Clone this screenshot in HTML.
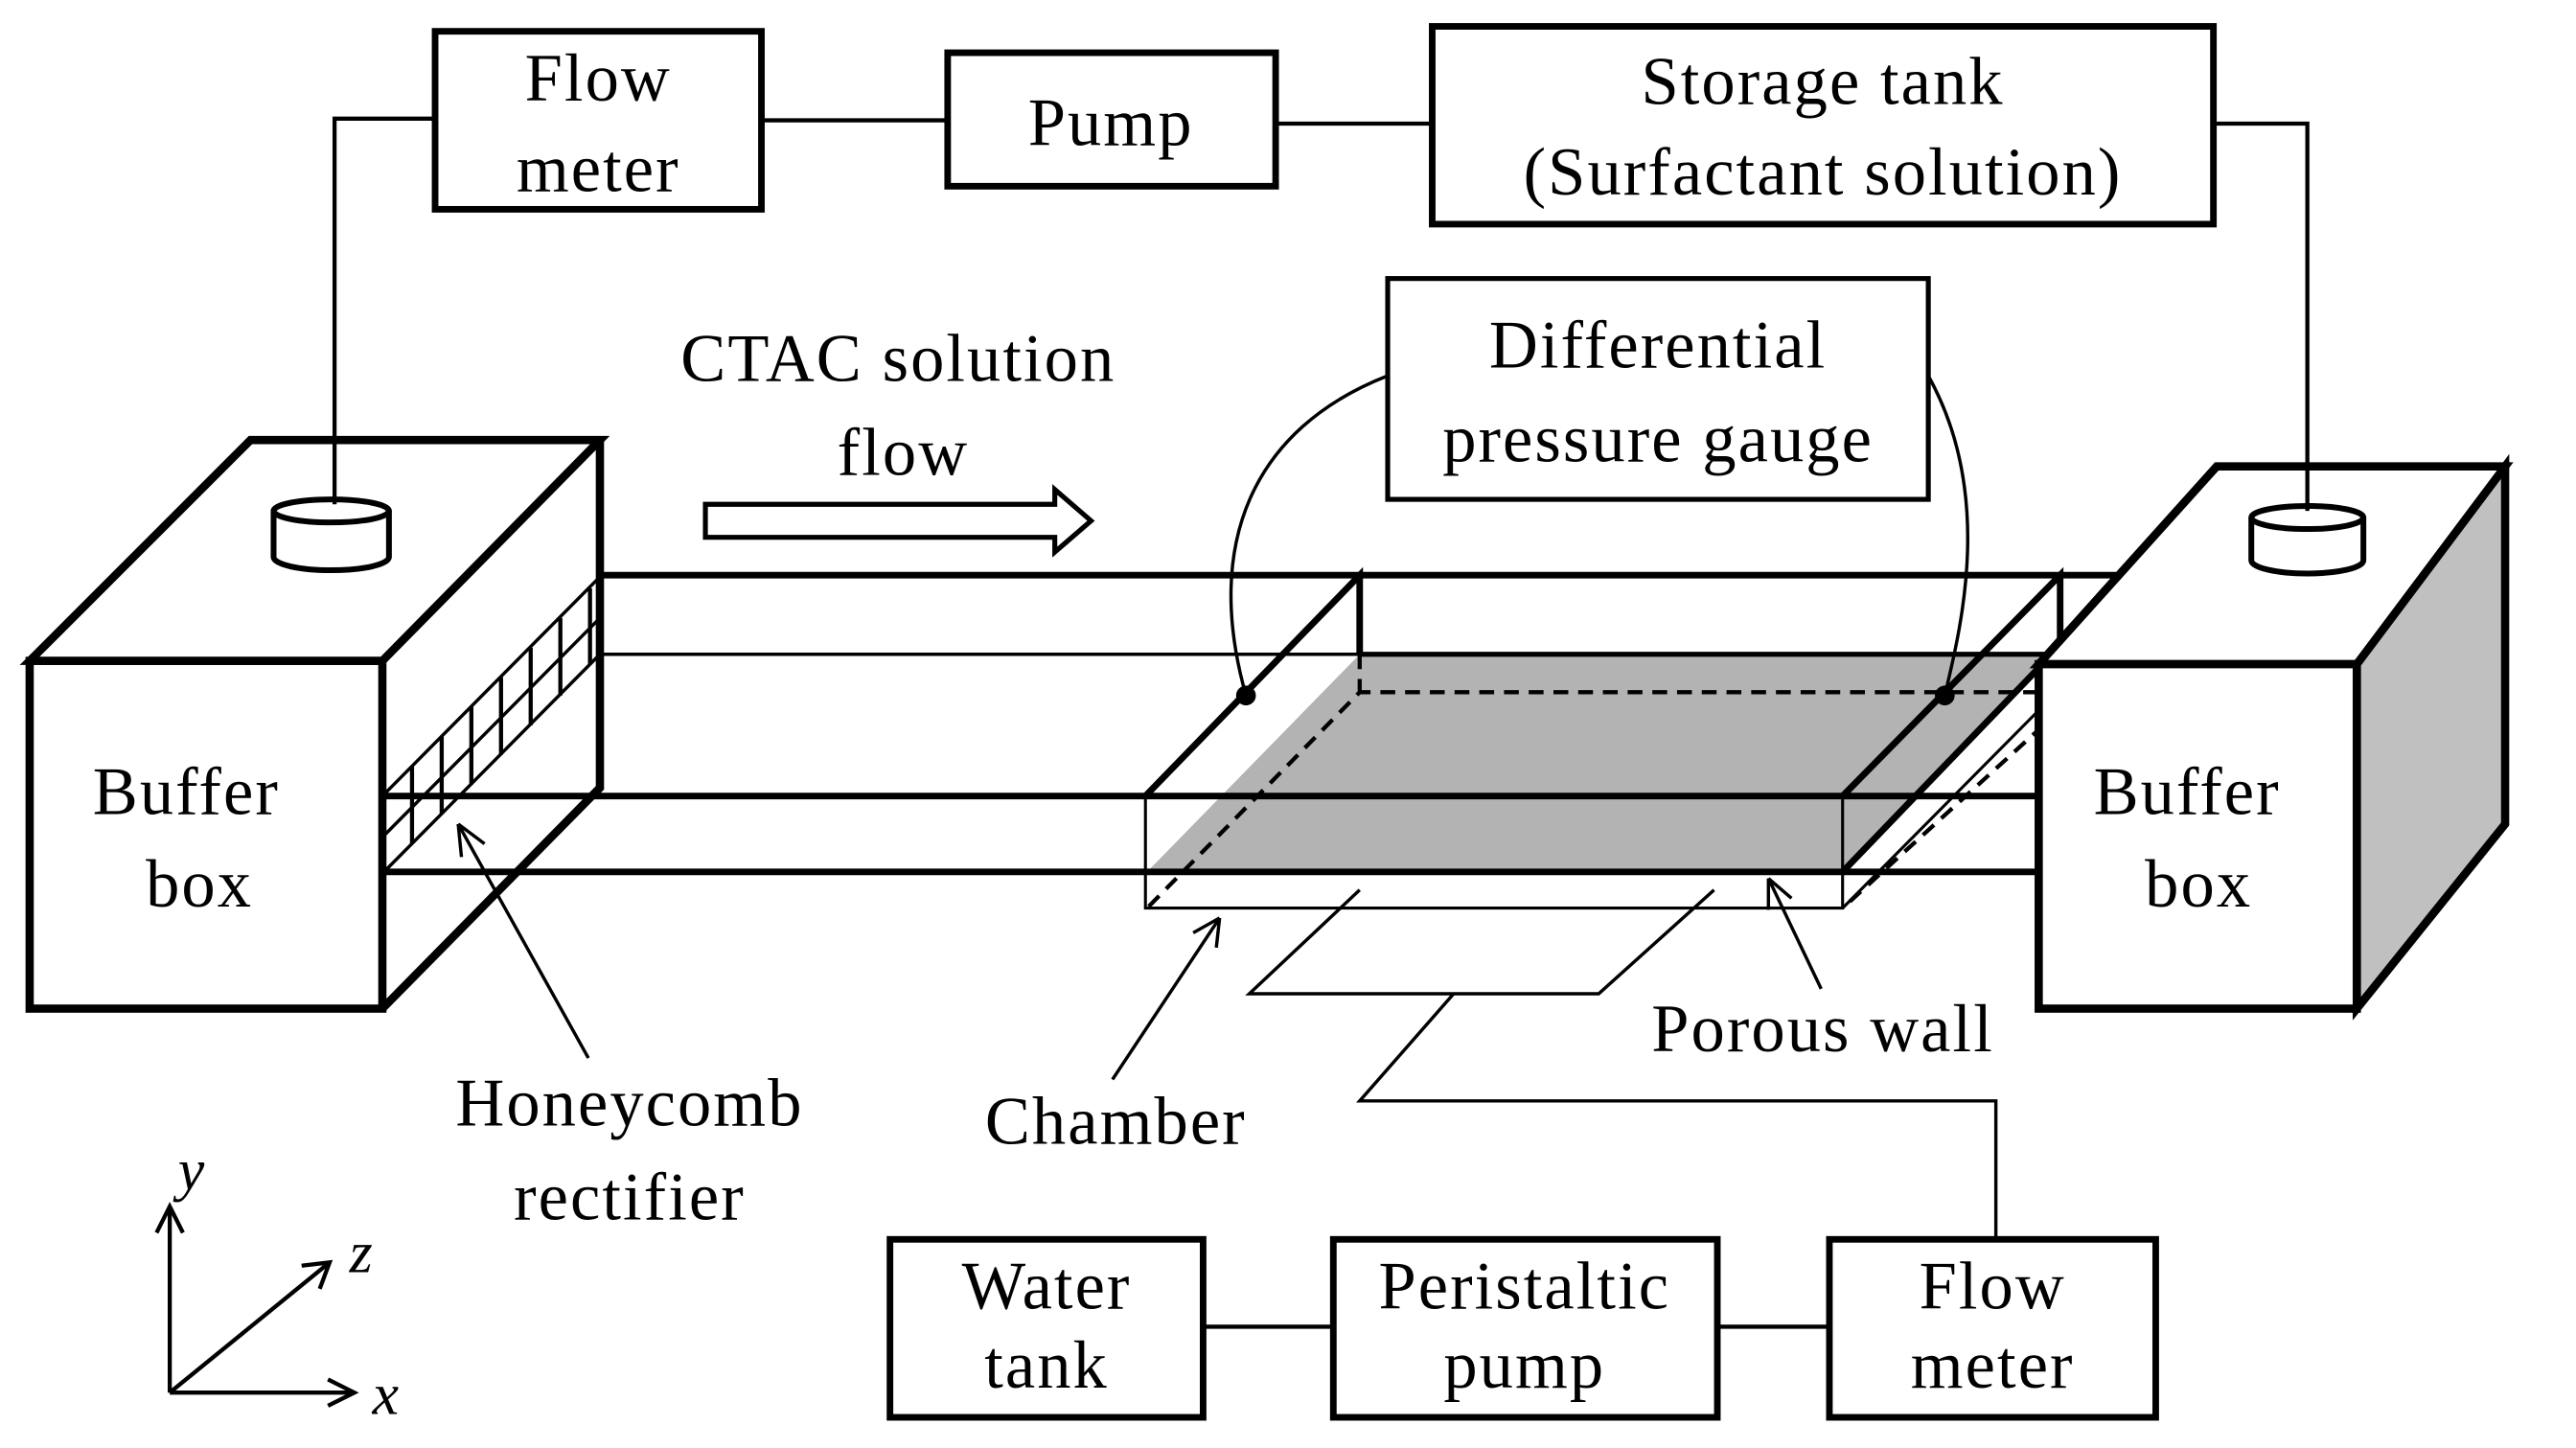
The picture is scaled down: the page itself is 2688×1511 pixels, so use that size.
<!DOCTYPE html>
<html><head><meta charset="utf-8"><style>
html,body{margin:0;padding:0;background:#fff;}
svg{display:block;}
text{font-family:"Liberation Serif",serif;font-size:41px;letter-spacing:1.2px;fill:#000;}
</style></head><body>
<svg width="2688" height="1511" viewBox="0 0 1563 878.6" xmlns="http://www.w3.org/2000/svg">
<g fill="none" stroke="#000" stroke-linejoin="miter">
<!-- top boxes -->
<rect x="264" y="19" width="198" height="108" stroke-width="4"/>
<rect x="575" y="32" width="199" height="81" stroke-width="4"/>
<rect x="869" y="16" width="474" height="120" stroke-width="4"/>
<rect x="842" y="169" width="328" height="134" stroke-width="3"/>
<path d="M462,73 H575 M774,75 H869" stroke-width="2.5"/>

<!-- gray porous wall -->
<polygon points="697,528 825,397 1245,397 1118,528" fill="#b3b3b3" stroke="none"/>
<!-- channel lines -->
<path d="M232,483 H1237 M232,529 H1237" stroke-width="4"/>
<path d="M364,349 H1290" stroke-width="4"/>
<path d="M364,397 H825" stroke-width="2"/>
<path d="M825,397 H1245 L1237,405" stroke-width="3"/>
<!-- chamber -->
<path d="M695,483 L825,349 V397 M1118,483 L1250,349 V397 M1118,529 L1245,397" stroke-width="4"/>
<path d="M695,483 V551 H1118 V483 M1118,551 L1240,428" stroke-width="1.8"/>
<path d="M697,550 L825,420 H1252 M825,397 V420 M1252,420 L1240,432 M1240,440 L1118,551" stroke-width="2.5" stroke-dasharray="9,6"/>
<circle cx="756" cy="422" r="6" fill="#000" stroke="none"/>
<circle cx="1180" cy="422" r="6" fill="#000" stroke="none"/>
<path d="M842,228 C760,260 730,330 756,422" stroke-width="2"/>
<path d="M1170,228 C1210,300 1190,380 1180,422" stroke-width="2"/>

<!-- left buffer box -->
<path d="M18,401 L152,267 H364 L232,401 Z" fill="#fff" stroke-width="5"/>
<rect x="18" y="401" width="214" height="211" stroke-width="5"/>
<path d="M232,612 L364,478 V267" stroke-width="5"/>
<!-- honeycomb -->
<g stroke-width="2">
<path d="M232,483 L364,350 M232,508 L364,375 M232,530 L364,397"/>
<path d="M250,465 V512 M268,447 V494 M286,429 V476 M304,411 V458 M322,393 V440 M340,375 V422 M358,357 V403" stroke-width="2.5"/>
</g>
<!-- left cylinder -->
<path d="M166,310 V338 A35,8 0 0 0 236,338 V310" fill="#fff" stroke-width="3.5"/>
<ellipse cx="201" cy="310" rx="35" ry="7" fill="#fff" stroke-width="3.5"/>

<!-- right buffer box -->
<path d="M1430,403 L1520,283 V500 L1430,612 Z" fill="#c0c0c0" stroke-width="5"/>
<path d="M1237,403 L1345,283 H1520 L1430,403 Z" fill="#fff" stroke-width="5"/>
<rect x="1237" y="403" width="193" height="209" fill="#fff" stroke-width="5"/>
<path d="M1366,314 V340 A34,8 0 0 0 1434,340 V314" fill="#fff" stroke-width="3.5"/>
<ellipse cx="1400" cy="314" rx="34" ry="7" fill="#fff" stroke-width="3.5"/>

<!-- vertical connectors to cylinders (on top of boxes) -->
<path d="M264,72 H203 V306 M1343,75 H1400 V310" stroke-width="2.5"/>

<!-- CTAC arrow -->
<path d="M428,306 H640 V297 L662,316 L640,335 V326 H428 Z" stroke-width="3"/>

<!-- pointer arrows -->
<path d="M357,642 L278,500 M278,500 L280,520 M278,500 L294,512" stroke-width="2"/>
<path d="M675,655 L740,557 M740,557 L724,566 M740,557 L738,575" stroke-width="2"/>
<path d="M1105,600 L1073,533 M1073,533 L1073,552 M1073,533 L1087,545" stroke-width="2"/>

<!-- supply lines -->
<path d="M825,540 L758,603 H970 L1040,540 M882,603 L825,668 H1211 V752" stroke-width="2"/>

<!-- bottom boxes -->
<rect x="540" y="752" width="190" height="108" stroke-width="4"/>
<rect x="809" y="752" width="233" height="108" stroke-width="4"/>
<rect x="1110" y="752" width="198" height="108" stroke-width="4"/>
<path d="M730,805 H809 M1042,805 H1110" stroke-width="2.5"/>

<!-- axes -->
<path d="M103,845 V732 M95,748 L103,732 L111,748 M103,845 H215 M199,837 L215,845 L199,853 M103,845 L200,766 M183,768 L200,766 L194,782" stroke-width="2.5"/>
</g>

<g text-anchor="middle">
<text x="363" y="61">Flow</text>
<text x="363" y="116">meter</text>
<text x="674" y="88">Pump</text>
<text x="1106" y="63">Storage tank</text>
<text x="1106" y="118">(Surfactant solution)</text>
<text x="1006" y="223">Differential</text>
<text x="1006" y="280">pressure  gauge</text>
<text x="545" y="231">CTAC solution</text>
<text x="548" y="288">flow</text>
<text x="113" y="494">Buffer</text>
<text x="121" y="550">box</text>
<text x="1327" y="494">Buffer</text>
<text x="1334" y="550">box</text>
<text x="382" y="683">Honeycomb</text>
<text x="382" y="740">rectifier</text>
<text x="677" y="694">Chamber</text>
<text x="1106" y="638">Porous wall</text>
<text x="635" y="794">Water</text>
<text x="635" y="842">tank</text>
<text x="925" y="794">Peristaltic</text>
<text x="925" y="842">pump</text>
<text x="1209" y="794">Flow</text>
<text x="1209" y="842">meter</text>
</g>
<text x="108" y="722" style="font-style:italic;font-size:36px">y</text>
<text x="212" y="772" style="font-style:italic;font-size:36px">z</text>
<text x="226" y="858" style="font-style:italic;font-size:36px">x</text>
</svg>
</body></html>
